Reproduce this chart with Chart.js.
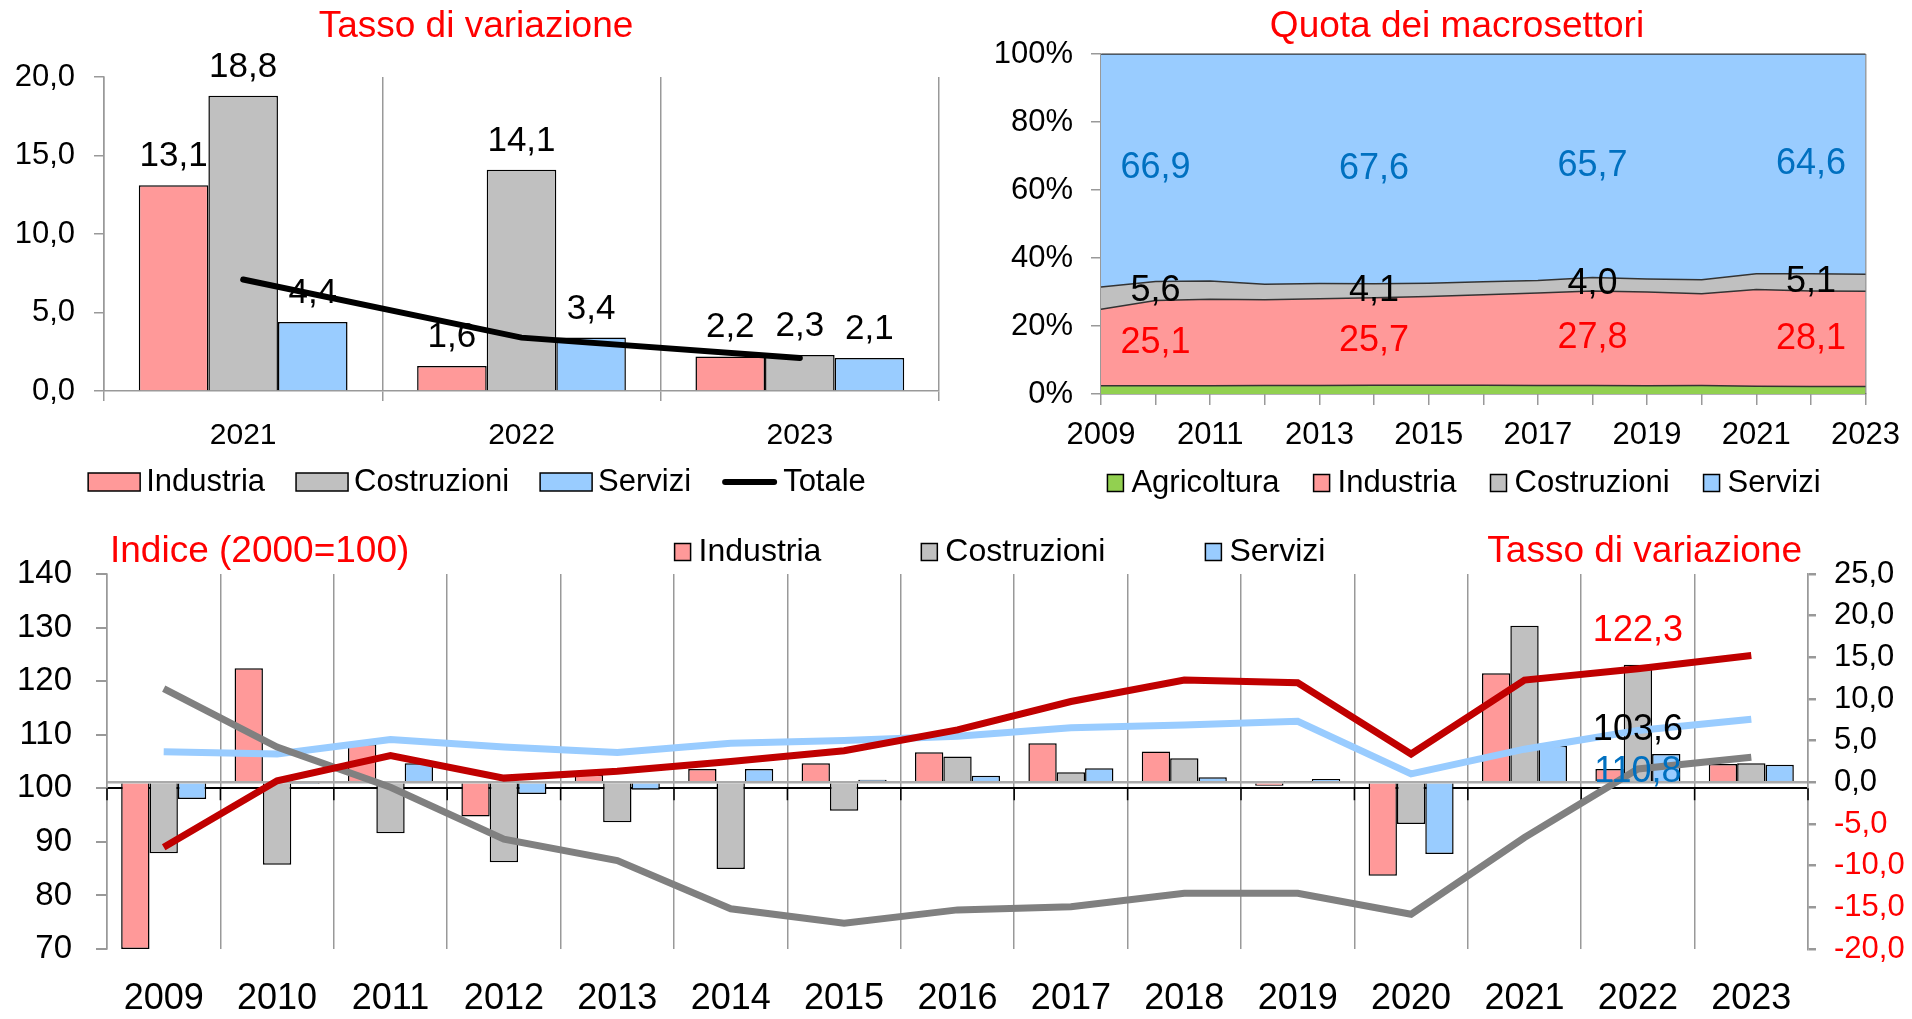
<!DOCTYPE html>
<html lang="it">
<head>
<meta charset="UTF-8">
<title>Valore aggiunto per macrosettori</title>
<script src="https://cdn.jsdelivr.net/npm/chart.js@4.4.1/dist/chart.umd.min.js"></script>
<style>
  body { margin: 0; background: #fff; width: 1912px; height: 1019px; overflow: hidden; position: relative; }
  canvas { position: absolute; }
</style>
</head>
<body>
<canvas id="rates" width="960" height="515" style="left:0;top:0"></canvas>
<canvas id="shares" width="952" height="515" style="left:960px;top:0"></canvas>
<canvas id="index" width="1912" height="504" style="left:0;top:515px"></canvas>
<script>
// tasso di variazione 2021-2023
const rateYears = ['2021', '2022', '2023'];
const rateIndustria = [13.1, 1.6, 2.2];
const rateCostruzioni = [18.8, 14.1, 2.3];
const rateServizi = [4.4, 3.4, 2.1];
const rateTotale = [7.1, 3.4, 2.1];

// quota dei macrosettori (%)
const shareYears = ['2009','2010','2011','2012','2013','2014','2015','2016','2017','2018','2019','2020','2021','2022','2023'];
const shareAgricoltura = [2.4, 2.4, 2.4, 2.5, 2.5, 2.6, 2.6, 2.6, 2.5, 2.5, 2.4, 2.5, 2.3, 2.2, 2.2];
const shareIndustria   = [22.5, 25.1, 25.5, 25.2, 25.5, 25.7, 26.1, 26.6, 27.2, 27.8, 27.6, 27.0, 28.4, 28.1, 28.0];
const shareCostruzioni = [6.6, 5.6, 5.3, 4.6, 4.5, 4.1, 3.9, 3.8, 3.7, 4.0, 3.8, 4.1, 4.7, 5.1, 5.0];
const shareServizi     = [68.5, 66.9, 66.8, 67.7, 67.5, 67.6, 67.4, 67.0, 66.6, 65.7, 66.2, 66.4, 64.6, 64.6, 64.8];
const shareLabelIdx = [1, 5, 9, 13];

// indice (2000=100) e tasso di variazione annuo
const years = ['2009','2010','2011','2012','2013','2014','2015','2016','2017','2018','2019','2020','2021','2022','2023'];
const varIndustria   = [-20.0, 13.7, 4.6, -4.1, 0.9, 1.6, 2.3, 3.6, 4.7, 3.7, -0.4, -11.2, 13.1, 1.6, 2.2];
const varCostruzioni = [-8.5, -9.9, -6.1, -9.6, -4.8, -10.4, -3.4, 3.1, 1.2, 2.9, 0.1, -5.0, 18.8, 14.1, 2.3];
const varServizi     = [-2.0, -0.2, 2.3, -1.4, -0.9, 1.6, 0.3, 0.8, 1.7, 0.6, 0.4, -8.6, 4.4, 3.4, 2.1];
const idxIndustria   = [89.0, 101.4, 106.1, 101.9, 103.2, 105.0, 107.0, 110.9, 116.2, 120.2, 119.7, 106.4, 120.2, 122.3, 124.8];
const idxCostruzioni = [118.6, 107.7, 100.2, 90.5, 86.5, 77.5, 74.8, 77.3, 77.9, 80.4, 80.4, 76.5, 90.8, 103.6, 105.8];
const idxServizi     = [106.8, 106.4, 109.1, 107.7, 106.7, 108.4, 108.9, 109.7, 111.3, 111.8, 112.5, 102.7, 107.3, 110.8, 112.9];
const idxLabelIdx = 13;

const FONT = "'Liberation Sans', Arial, sans-serif";
const PINK = '#FF9999', GREY = '#C0C0C0', SKY = '#99CCFF', GREEN = '#92D050';
const AXIS = '#999999';
Chart.defaults.font.family = FONT;
Chart.defaults.color = '#000';

const fmt = v => v.toFixed(1).replace('.', ',');

function drawLegend(chart, L) {
  const ctx = chart.ctx;
  ctx.font = L.size + 'px ' + FONT;
  ctx.textBaseline = 'middle';
  ctx.textAlign = 'left';
  const entries = L.datasets.map(i => {
    const ds = chart.data.datasets[i];
    const isLine = ds.type === 'line';
    const markW = isLine ? L.lineLen : L.boxW;
    return {ds, isLine, markW, w: markW + L.textGap + ctx.measureText(ds.label).width};
  });
  const total = entries.reduce((s, e) => s + e.w, 0) + L.gap * (entries.length - 1);
  let x = L.cx - total / 2;
  entries.forEach(e => {
    if (e.isLine) {
      ctx.strokeStyle = e.ds.borderColor;
      ctx.lineWidth = L.lineW;
      ctx.lineCap = 'round';
      ctx.beginPath();
      ctx.moveTo(x + 3, L.y);
      ctx.lineTo(x + e.markW - 3, L.y);
      ctx.stroke();
    } else {
      ctx.fillStyle = e.ds.backgroundColor;
      ctx.fillRect(x, L.y - L.boxH / 2, e.markW, L.boxH);
      ctx.strokeStyle = '#000';
      ctx.lineWidth = 1.5;
      ctx.strokeRect(x, L.y - L.boxH / 2, e.markW, L.boxH);
    }
    ctx.fillStyle = '#000';
    ctx.fillText(e.ds.label, x + e.markW + L.textGap, L.y);
    x += e.w + L.gap;
  });
}

const decor = {
  id: 'decor',
  afterDraw(chart, args, opts) {
    const ctx = chart.ctx;
    ctx.save();
    (opts.texts || []).forEach(t => {
      ctx.font = t.size + 'px ' + FONT;
      ctx.fillStyle = t.color;
      ctx.textAlign = t.align || 'center';
      ctx.textBaseline = 'middle';
      ctx.fillText(t.text, t.x, t.y);
    });
    if (opts.legend) drawLegend(chart, opts.legend);
    ctx.restore();
  }
};

// ---------- Tasso di variazione (alto a sinistra) ----------
const barLabels = {
  id: 'barLabels',
  afterDatasetDraw(chart, args) {
    const ds = chart.data.datasets[args.index];
    if (ds.type === 'line') return;
    const ctx = chart.ctx;
    ctx.save();
    ctx.font = '35px ' + FONT;
    ctx.fillStyle = '#000';
    ctx.textAlign = 'center';
    ctx.textBaseline = 'alphabetic';
    args.meta.data.forEach((bar, i) => ctx.fillText(fmt(ds.data[i]), bar.x, bar.y - 19));
    ctx.restore();
  }
};

const barStyle = {borderColor: '#000', borderWidth: 1.5, categoryPercentage: 0.75, barPercentage: 1.0};

new Chart(document.getElementById('rates'), {
  type: 'bar',
  data: {
    labels: rateYears,
    datasets: [
      Object.assign({label: 'Industria', data: rateIndustria, backgroundColor: PINK}, barStyle),
      Object.assign({label: 'Costruzioni', data: rateCostruzioni, backgroundColor: GREY}, barStyle),
      Object.assign({label: 'Servizi', data: rateServizi, backgroundColor: SKY}, barStyle),
      {type: 'line', label: 'Totale', data: rateTotale, borderColor: '#000', backgroundColor: '#000',
       borderWidth: 6, pointRadius: 0, borderCapStyle: 'round', order: -1}
    ]
  },
  options: {
    responsive: false, animation: false, devicePixelRatio: 1,
    layout: {padding: {top: 77, right: 21, bottom: 64, left: 0}},
    scales: {
      x: {
        grid: {offset: true, color: AXIS, lineWidth: 1.5, tickLength: 10, tickColor: AXIS},
        border: {color: AXIS, width: 1.5},
        ticks: {font: {size: 30}, padding: 17},
        afterFit: s => { s.height = 60; }
      },
      y: {
        min: 0, max: 20,
        ticks: {stepSize: 5, callback: v => fmt(v), font: {size: 31}, padding: 19},
        grid: {drawOnChartArea: false, tickLength: 10, tickColor: AXIS, lineWidth: 1.5},
        border: {color: AXIS, width: 1.5},
        afterFit: s => { s.width = 104; }
      }
    },
    plugins: {
      legend: {display: false},
      tooltip: {enabled: false},
      decor: {
        texts: [{text: 'Tasso di variazione', x: 476, y: 27, size: 37, color: '#FF0000'}],
        legend: {datasets: [0, 1, 2, 3], y: 482, cx: 477, boxW: 52, boxH: 18, lineLen: 55, lineW: 6, textGap: 6, gap: 31, size: 31}
      }
    }
  },
  plugins: [barLabels, decor]
});

// ---------- Quota dei macrosettori (alto a destra) ----------
const shareLabels = {
  id: 'shareLabels',
  afterDatasetsDraw(chart) {
    const ctx = chart.ctx;
    const colors = [null, '#FF0000', '#000000', '#0070C0'];
    const base = chart.scales.y.getPixelForValue(0);
    ctx.save();
    ctx.font = '36px ' + FONT;
    ctx.textAlign = 'center';
    ctx.textBaseline = 'middle';
    chart.data.datasets.forEach((ds, d) => {
      if (!colors[d]) return;
      const pts = chart.getDatasetMeta(d).data;
      const below = chart.getDatasetMeta(d - 1).data;
      shareLabelIdx.forEach(i => {
        const yMid = (pts[i].y + (below ? below[i].y : base)) / 2;
        ctx.fillStyle = colors[d];
        ctx.fillText(fmt(ds.data[i]), pts[i].x, yMid);
      });
    });
    ctx.restore();
  }
};

const areaStyle = {borderColor: '#333', borderWidth: 1.5, pointRadius: 0, tension: 0};
const lastShare = shareYears.length - 1;

new Chart(document.getElementById('shares'), {
  type: 'line',
  data: {
    labels: shareYears,
    datasets: [
      Object.assign({label: 'Agricoltura', data: shareAgricoltura, backgroundColor: GREEN, fill: 'origin'}, areaStyle),
      Object.assign({label: 'Industria', data: shareIndustria, backgroundColor: PINK, fill: '-1'}, areaStyle),
      Object.assign({label: 'Costruzioni', data: shareCostruzioni, backgroundColor: GREY, fill: '-1'}, areaStyle),
      Object.assign({label: 'Servizi', data: shareServizi, backgroundColor: SKY, fill: '-1'}, areaStyle)
    ]
  },
  options: {
    responsive: false, animation: false, devicePixelRatio: 1,
    layout: {padding: {top: 54, right: 40, bottom: 61, left: 0}},
    scales: {
      x: {
        offset: false,
        grid: {offset: false, color: c => c.index === lastShare ? AXIS : 'transparent', lineWidth: 1.5,
               tickLength: 11, tickColor: AXIS},
        border: {color: '#666', width: 1.5},
        ticks: {autoSkip: false, maxRotation: 0, font: {size: 31}, padding: 12,
                callback: (v, i) => i % 2 === 0 ? shareYears[i] : ''},
        afterFit: s => { s.height = 60; }
      },
      y: {
        stacked: true, min: 0, max: 100,
        ticks: {stepSize: 20, callback: v => v + '%', font: {size: 31}, padding: 18},
        grid: {color: c => c.tick.value === 100 ? AXIS : 'transparent', lineWidth: 1.5, tickLength: 10, tickColor: AXIS},
        border: {color: AXIS, width: 1.5},
        afterFit: s => { s.width = 141; }
      }
    },
    plugins: {
      legend: {display: false},
      tooltip: {enabled: false},
      decor: {
        texts: [{text: 'Quota dei macrosettori', x: 497, y: 27, size: 37, color: '#FF0000'}],
        legend: {datasets: [0, 1, 2, 3], y: 483, cx: 504, boxW: 16, boxH: 17, textGap: 8, gap: 34, size: 31}
      }
    }
  },
  plugins: [shareLabels, decor]
});

// ---------- Indice e tasso di variazione (in basso) ----------
const indexExtras = {
  id: 'indexExtras',
  beforeDatasetsDraw(chart) {
    const {ctx, scales: {x, y}} = chart;
    const y100 = y.getPixelForValue(100);
    const step = x.width / years.length;
    ctx.save();
    ctx.strokeStyle = '#000';
    ctx.lineWidth = 1.5;
    ctx.beginPath();
    for (let i = 0; i <= years.length; i++) {
      const px = x.left + i * step;
      ctx.moveTo(px, y100);
      ctx.lineTo(px, y100 + 12);
    }
    ctx.stroke();
    ctx.restore();
  },
  afterDatasetsDraw(chart) {
    const ctx = chart.ctx;
    const spec = [[3, '#FF0000', -38], [4, '#000000', -39], [5, '#0070C0', 42]];
    ctx.save();
    ctx.font = '36px ' + FONT;
    ctx.textAlign = 'center';
    ctx.textBaseline = 'middle';
    spec.forEach(([d, color, dy]) => {
      const pt = chart.getDatasetMeta(d).data[idxLabelIdx];
      ctx.fillStyle = color;
      ctx.fillText(fmt(chart.data.datasets[d].data[idxLabelIdx]), pt.x, pt.y + dy);
    });
    ctx.restore();
  }
};

const lineStyle = {type: 'line', yAxisID: 'y', borderWidth: 7, pointRadius: 0, fill: false, tension: 0, order: 1};
const varStyle = {yAxisID: 'y1', borderColor: '#000', borderWidth: 1.5, categoryPercentage: 0.75, barPercentage: 1.0, order: 2};

new Chart(document.getElementById('index'), {
  type: 'bar',
  data: {
    labels: years,
    datasets: [
      Object.assign({label: 'Industria', data: varIndustria, backgroundColor: PINK}, varStyle),
      Object.assign({label: 'Costruzioni', data: varCostruzioni, backgroundColor: GREY}, varStyle),
      Object.assign({label: 'Servizi', data: varServizi, backgroundColor: SKY}, varStyle),
      Object.assign({label: 'Industria', data: idxIndustria, borderColor: '#C00000', backgroundColor: '#C00000'}, lineStyle),
      Object.assign({label: 'Costruzioni', data: idxCostruzioni, borderColor: '#808080', backgroundColor: '#808080'}, lineStyle),
      Object.assign({label: 'Servizi', data: idxServizi, borderColor: SKY, backgroundColor: SKY}, lineStyle)
    ]
  },
  options: {
    responsive: false, animation: false, devicePixelRatio: 1,
    layout: {padding: {top: 59, right: 0, bottom: 10, left: 0}},
    scales: {
      x: {
        grid: {offset: true, color: AXIS, lineWidth: 1.5, drawTicks: false},
        border: {display: false},
        ticks: {font: {size: 36}, padding: 28},
        afterFit: s => { s.height = 60; }
      },
      y: {
        position: 'left', min: 70, max: 140,
        ticks: {stepSize: 10, font: {size: 33}, padding: 24},
        grid: {color: c => c.tick.value === 100 ? '#000' : 'transparent', lineWidth: 2, tickLength: 11, tickColor: AXIS},
        border: {color: AXIS, width: 1.5},
        afterFit: s => { s.width = 107; }
      },
      y1: {
        position: 'right', min: -20, max: 25,
        ticks: {stepSize: 5, font: {size: 31}, padding: 18, callback: v => fmt(v),
                color: c => c.tick.value < 0 ? '#FF0000' : '#000'},
        grid: {color: c => c.tick.value === 0 ? '#AAAAAA' : 'transparent', lineWidth: 2.5, tickLength: 8, tickColor: AXIS},
        border: {color: AXIS, width: 1.5},
        afterFit: s => { s.width = 104; }
      }
    },
    plugins: {
      legend: {display: false},
      tooltip: {enabled: false},
      decor: {
        texts: [
          {text: 'Indice (2000=100)', x: 110, y: 37, size: 37, color: '#FF0000', align: 'left'},
          {text: 'Tasso di variazione', x: 1802, y: 37, size: 37, color: '#FF0000', align: 'right'}
        ],
        legend: {datasets: [0, 1, 2], y: 37, cx: 1000, boxW: 16, boxH: 17, textGap: 8, gap: 100, size: 32}
      }
    }
  },
  plugins: [indexExtras, decor]
});
</script>
</body>
</html>
